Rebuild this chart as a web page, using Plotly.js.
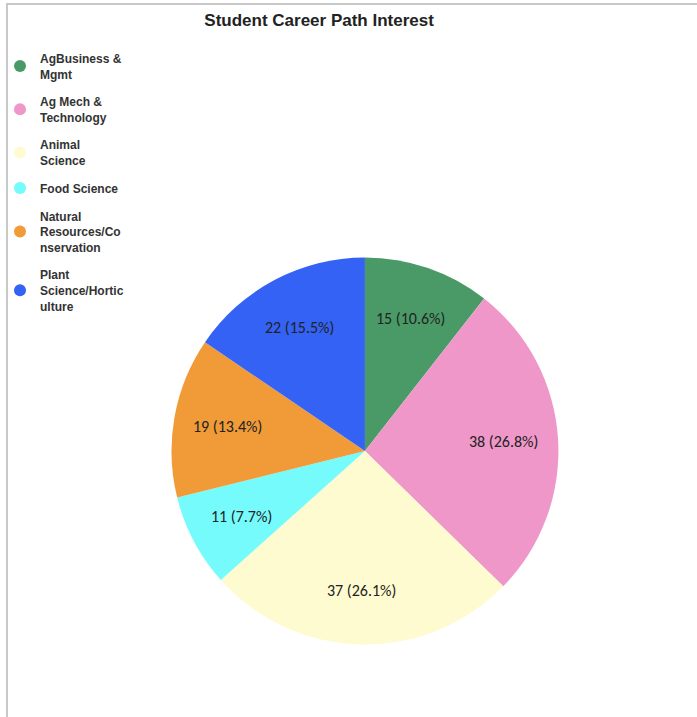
<!DOCTYPE html>
<html>
<head>
<meta charset="utf-8">
<script src="https://cdn.plot.ly/plotly-3.0.1.min.js"></script>
<style>
html,body{margin:0;padding:0;background:#fff;}
#chart{width:697px;height:717px;}
</style>
</head>
<body>
<div id="chart"></div>
<script>
const categories = ["AgBusiness & Mgmt", "Ag Mech & Technology", "Animal Science", "Food Science", "Natural Resources/Conservation", "Plant Science/Horticulture"];
const legendLabels = ["AgBusiness &<br>Mgmt", "Ag Mech &<br>Technology", "Animal<br>Science", "Food Science", "Natural<br>Resources/Co<br>nservation", "Plant<br>Science/Hortic<br>ulture"];
const values = [15, 38, 37, 11, 19, 22];
const colors = ["#4a9a68", "#f097c9", "#fefbd0", "#76fbfd", "#f09a38", "#3362f5"];

const W = 697, H = 717;
const cx = 364, cy = 451, r = 194;
const labelRadius = 0.72;

const traces = [{
  type: "pie",
  labels: categories,
  values: values,
  sort: false,
  direction: "clockwise",
  rotation: 0,
  showlegend: false,
  marker: {colors: colors, line: {width: 0}},
  textinfo: "none",
  domain: {x: [(cx - r) / W, (cx + r) / W], y: [(H - cy - r) / H, (H - cy + r) / H]},
  hoverinfo: "label+value+percent"
}];

legendLabels.forEach((name, i) => {
  traces.push({
    type: "scatter",
    mode: "markers",
    x: [null], y: [null],
    name: name,
    legendgroup: "g" + i,
    marker: {symbol: "circle", size: 14, color: colors[i]},
    showlegend: true,
    hoverinfo: "skip"
  });
});

// Slice labels placed at each slice's mid-angle, derived from the values
const total = values.reduce((a, b) => a + b, 0);
let cum = 0;
const annotations = values.map((v) => {
  const mid = (cum + v / 2) / total * 2 * Math.PI;
  cum += v;
  const px = cx + Math.sin(mid) * r * labelRadius;
  const py = cy - Math.cos(mid) * r * labelRadius;
  return {
    xref: "paper", yref: "paper",
    x: px / W, y: 1 - py / H,
    xanchor: "center", yanchor: "middle",
    showarrow: false,
    text: v + " (" + (v / total * 100).toFixed(1) + "%)",
    font: {family: "Carlito, 'Liberation Sans', Arial, sans-serif", size: 16, color: "#222"}
  };
});

const layout = {
  width: W, height: H,
  margin: {l: 0, r: 0, t: 0, b: 0},
  paper_bgcolor: "#ffffff",
  plot_bgcolor: "rgba(0,0,0,0)",
  title: {
    text: "<b>Student Career Path Interest</b>",
    x: 318 / W, xanchor: "center", xref: "paper",
    y: 1 - 20 / H, yanchor: "middle", yref: "container",
    font: {family: "'Liberation Sans', Arial, sans-serif", size: 17, color: "#222"}
  },
  xaxis: {visible: false, range: [0, 1]},
  yaxis: {visible: false, range: [0, 1]},
  showlegend: true,
  legend: {
    x: -2 / W, xanchor: "left", y: 1 - 44 / H, yanchor: "top",
    font: {family: "'Liberation Sans', Arial, sans-serif", size: 12, color: "#333", weight: "bold"},
    bgcolor: "rgba(0,0,0,0)",
    itemsizing: "constant",
    tracegroupgap: 9,
    traceorder: "grouped"
  },
  annotations: annotations,
  shapes: [
    {type: "line", xref: "paper", yref: "paper", x0: 4 / W, x1: 1, y0: 1 - 4 / H, y1: 1 - 4 / H, line: {color: "#c8c8c8", width: 2}},
    {type: "line", xref: "paper", yref: "paper", x0: 5 / W, x1: 5 / W, y0: 0, y1: 1 - 4 / H, line: {color: "#c8c8c8", width: 2}}
  ]
};

Plotly.newPlot("chart", traces, layout, {displayModeBar: false, staticPlot: true});
</script>
</body>
</html>
